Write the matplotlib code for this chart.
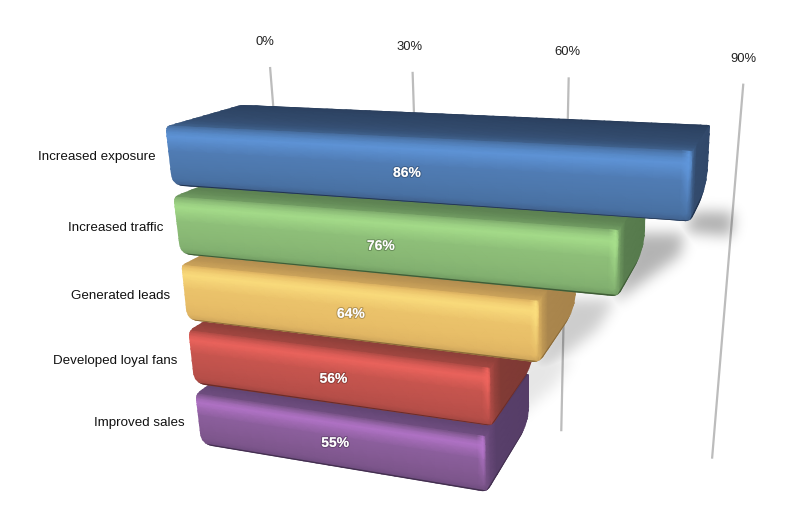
import numpy as np
import matplotlib
matplotlib.use('Agg')
import matplotlib.pyplot as plt
import matplotlib.patheffects as pe
from matplotlib.colors import LinearSegmentedColormap
from matplotlib.patches import PathPatch
from matplotlib.path import Path

plt.rcParams['font.family'] = ['Liberation Sans', 'DejaVu Sans']

categories = ['Increased exposure', 'Increased traffic', 'Generated leads',
              'Developed loyal fans', 'Improved sales']
values = [86, 76, 64, 56, 55]
grid_values = [0, 30, 60, 90]

# edge, top/side, body, highlight
palette = [
    ['#22344f', '#324a6c', '#4b74a8', '#6097dc'],
    ['#3f5c36', '#587c4e', '#86b573', '#a8e08c'],
    ['#8a6a38', '#a9854c', '#e6bb66', '#fcdf7e'],
    ['#6a2c29', '#803a35', '#bb504a', '#f0655e'],
    ['#43304f', '#573e69', '#80588f', '#b676cc'],
]

# camera: (value, row) -> pixel, fitted on the front faces of the bars
cal = np.array([
    (0, 0, 167, 125), (86, 0, 693, 155), (0, .83, 172, 184), (86, .83, 692, 221),
    (0, 1, 174, 195), (0, 1.83, 181, 253), (76, 1.83, 617, 295),
    (0, 2, 182, 265), (0, 2.83, 188, 320), (64, 2.83, 540, 361),
    (0, 3, 189, 333), (0, 3.83, 195, 383), (56, 3.83, 495, 424),
    (0, 4, 196, 396), (0, 4.83, 201, 443), (55, 4.83, 487, 489),
    (43, .42, 408, 171), (38, 1.42, 374, 245), (32, 2.42, 350, 313),
    (28, 3.42, 332, 379), (27.5, 4.42, 333, 443),
], dtype=float)
A, b = [], []
for v, r, x, y in cal:
    A.append([v, r, 1, 0, 0, 0, -x * v, -x * r])
    A.append([0, 0, 0, v, r, 1, -y * v, -y * r])
    b += [x, y]
H = np.append(np.linalg.lstsq(np.array(A), np.array(b), rcond=None)[0], 1).reshape(3, 3)
VP = np.array([830.0, -64.0])  # where the depth lines meet
DEPTH = 0.125
WALL = 0.15
BAR = 0.83
wall_nudge = [7, 10, 8, 2]  # the wall is not quite parallel to the bar fronts


def to_screen(v, r, f=0.0):
    v, r, f = np.broadcast_arrays(np.asarray(v, float), np.asarray(r, float), np.asarray(f, float))
    w = H[2, 0] * v + H[2, 1] * r + H[2, 2]
    x = (H[0, 0] * v + H[0, 1] * r + H[0, 2]) / w
    y = (H[1, 0] * v + H[1, 1] * r + H[1, 2]) / w
    return x + f * (VP[0] - x), y + f * (VP[1] - y)


def pt(v, r, f=0.0):
    x, y = to_screen(v, r, f)
    return np.array([float(x), float(y)])


def rounded(points, rad):
    verts, codes = [], []
    n = len(points)
    for i in range(n):
        p, c, q = points[i - 1], points[i], points[(i + 1) % n]
        rr = rad[i]
        a = c + (p - c) / np.linalg.norm(p - c) * rr
        d = c + (q - c) / np.linalg.norm(q - c) * rr
        verts += [a, c, d]
        codes += [Path.LINETO if i else Path.MOVETO, Path.CURVE3, Path.CURVE3]
    verts.append(verts[0])
    codes.append(Path.CLOSEPOLY)
    return Path(verts, codes)


def blur(img, sigma):
    t = np.arange(-int(3 * sigma), int(3 * sigma) + 1)
    kern = np.exp(-t ** 2 / (2 * sigma ** 2))
    kern /= kern.sum()
    img = np.apply_along_axis(np.convolve, 0, img, kern, mode='same')
    return np.apply_along_axis(np.convolve, 1, img, kern, mode='same')


fig = plt.figure(figsize=(8, 5.05), dpi=100)
ax = fig.add_axes([0, 0, 1, 1])

# back wall grid
for v, nudge in zip(grid_values, wall_nudge):
    x, y = to_screen([v, v], [-.49, 5.17], WALL)
    x = x + nudge - .03 * (y - 100)
    ax.plot(x, y, color='#bcbcbc', lw=1.6, zorder=1, solid_capstyle='butt')
    ax.text(x[0] - 5 + v / 18, y[0] - 25, f'{v}%', ha='center', va='center', fontsize=9.4, color='#222222', zorder=2)

# soft shadows on the wall, right of each free bar end
xx, yy = np.meshgrid(np.arange(800) + .5, np.arange(505) + .5)
pix = np.column_stack([xx.ravel(), yy.ravel()])
alpha = np.zeros(xx.shape)
strength = [.32, .3, .2, .1, 0]
for i, val in enumerate(values[:4]):
    fb, bb = pt(val, i + BAR), pt(val, i + BAR, DEPTH)
    if i == 0:
        shape = [bb + (-15, 26), bb + (26, 26), bb + (24, 50), fb + (-5, 10)]
    elif i == 1:
        shape = [bb + (-10, -18), bb + (40, -18), bb + (36, 4), fb + (8, -2), fb + (-5, 8)]
    else:
        shape = [bb + (-10, -10), bb + (40, -10), bb + (22, 20), fb + (10, 5), fb + (-10, 8)]
    mask = Path(shape).contains_points(pix).reshape(xx.shape).astype(float)
    alpha = np.maximum(alpha, blur(mask, 7) * strength[i])
rgba = np.zeros(xx.shape + (4,))
rgba[..., 3] = alpha
ax.imshow(rgba, extent=(0, 800, 505, 0), aspect='auto', zorder=3, interpolation='bilinear')

for i, (name, val, cols) in enumerate(zip(categories, values, palette)):
    z = 20 - 2 * i
    top, bot = float(i), i + BAR
    cmap = LinearSegmentedColormap.from_list(f'bar{i}', cols)

    outline = [pt(0, top), pt(0, top, .11), pt(val, top, DEPTH), pt(val, bot, DEPTH), pt(val, bot), pt(0, bot)]
    clip = PathPatch(rounded(outline, [5, 5, 2, 20, 6, 11]), facecolor='none', edgecolor='none', zorder=z)
    ax.add_patch(clip)

    # top face and front face as one strip, shaded across its height
    u = np.concatenate([np.linspace(-4, val - 1.5, 24), [val - .5, val]])
    fs = np.linspace(DEPTH, 0, 10)
    rs = np.array([0, .03, .08, .14, .22, .35, .6, .75, .83])
    s_v = [.1, .2, .24, .27, .30, .33, .36, .39, .45, .54,
           .62, .72, .86, .96, .88, .74, .68, .63, .5]
    n_f = len(fs)
    X = np.zeros((n_f + len(rs), len(u)))
    Y = X.copy()
    for j, f in enumerate(fs):
        X[j], Y[j] = to_screen(u, top, f)
    for j, dr in enumerate(rs):
        X[n_f + j], Y[n_f + j] = to_screen(u, top + dr, 0)
    C = np.tile(np.array(s_v)[:, None], (1, len(u)))
    # lighter rim on the free end, strongest near the top of the front face
    C[n_f:, -2] = np.minimum(C[n_f:, -2] + .3 * (1 - rs / .83), 1)
    C[n_f:, -1] = C[n_f:, -1] * .85
    m = ax.pcolormesh(X, Y, C, cmap=cmap, vmin=0, vmax=1, shading='gouraud', zorder=z)
    m.set_clip_path(clip)

    # end face
    fs2 = np.array([0, .012, .03, DEPTH])
    rs2 = np.linspace(top, bot, 8)
    X2 = np.zeros((len(rs2), len(fs2)))
    Y2 = X2.copy()
    for j, r in enumerate(rs2):
        X2[j], Y2[j] = to_screen(val, r, fs2)
    C2 = np.tile(np.array([.58, .45, .34, .31]), (len(rs2), 1))
    m2 = ax.pcolormesh(X2, Y2, C2, cmap=cmap, vmin=0, vmax=1, shading='gouraud', zorder=z)
    m2.set_clip_path(clip)

    # dark line under the bar
    lx, ly = zip(pt(0, bot), pt(val, bot), pt(val, bot, DEPTH))
    line, = ax.plot(lx, ly, color=cols[0], lw=1.6, zorder=z + .5)
    line.set_clip_path(clip)

    lb = pt(0, i + .44)
    ax.text(lb[0] - 14, lb[1] - .5 + .75 * i, name, ha='right', va='center', fontsize=9.6, color='#111111', zorder=30)
    tx = pt(val / 2, i + .45)
    ax.text(tx[0], tx[1], f'{val}%', ha='center', va='center', fontsize=10, fontweight='bold', color='white', zorder=30,
            path_effects=[pe.withStroke(linewidth=1.6, foreground=(0, 0, 0, .22))])

ax.set_xlim(0, 800)
ax.set_ylim(505, 0)
ax.axis('off')
fig.savefig('out.png', dpi=100)
